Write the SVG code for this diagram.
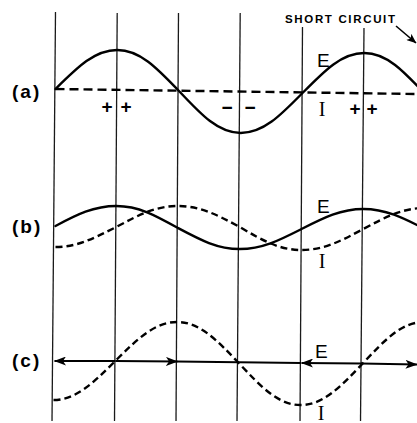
<svg xmlns="http://www.w3.org/2000/svg" width="417" height="423" viewBox="0 0 417 423">
<style>
.grid{stroke:#1a1a1a;stroke-width:1.3;fill:none}
.solid{stroke:#000;stroke-width:2.4;fill:none;stroke-linecap:round}
.dash{stroke:#000;stroke-width:2.4;fill:none;stroke-dasharray:7 4}
.axis{stroke:#000;stroke-width:2.2;fill:none}
.lbl{font-family:"Liberation Sans",Arial,sans-serif;font-weight:bold;font-size:19px;fill:#000}
.E{font-family:"Liberation Sans",Arial,sans-serif;font-size:19px;fill:#000}
.I{font-family:"Liberation Serif","Times New Roman",serif;font-size:20px;fill:#000;text-anchor:middle}
.sign{font-family:"Liberation Sans",Arial,sans-serif;font-weight:bold;font-size:19px;fill:#000;text-anchor:middle}
.sc{font-family:"Liberation Sans",Arial,sans-serif;font-weight:bold;font-size:11.5px;fill:#000}
</style>
<defs>
<marker id="ah" markerUnits="userSpaceOnUse" viewBox="0 0 12 9" refX="11.5" refY="4.5" markerWidth="12" markerHeight="9" orient="auto">
<path d="M0,0 L12,4.5 L0,9 L3,4.5 z" fill="#000"/>
</marker>
<marker id="ahs" markerUnits="userSpaceOnUse" viewBox="0 0 10 8" refX="9.5" refY="4" markerWidth="10" markerHeight="8" orient="auto">
<path d="M0,0 L10,4 L0,8 L2.5,4 z" fill="#000"/>
</marker>
</defs>
<rect width="417" height="423" fill="#fff"/>
<g id="grid">
<path class="grid" d="M55.5,12 L52,421"/>
<path class="grid" d="M117.2,13 L114.5,421"/>
<path class="grid" d="M178.5,13 L176,421"/>
<path class="grid" d="M240.2,13 L237,421"/>
<path class="grid" d="M302.5,27 L300,421"/>
<path class="grid" d="M364,28 L360.5,421"/>
</g>
<g id="panel-a">
<text class="lbl" x="12" y="98" letter-spacing="2">(a)</text>
<path class="dash" style="stroke-dasharray:9 5" d="M55.5,89 L417,94"/>
<path class="solid" d="M55.5,89 C78,66.7 94.8,50 117.25,50 C139.75,50 156.55,67.5 179,91 C201.5,115 218.3,133 240.75,133 C263.25,133 280.05,115.9 302.5,93 C325,70.1 341.8,53 364.25,53 C386.75,53 403.55,71 426,95"/>
<text class="sign" x="107" y="113">+</text>
<text class="sign" x="126" y="113">+</text>
<text class="sign" x="227" y="114">−</text>
<text class="sign" x="250" y="114">−</text>
<text class="sign" x="355" y="115">+</text>
<text class="sign" x="372" y="115">+</text>
<text class="E" x="317" y="67">E</text>
<text class="I" x="322" y="116">I</text>
<text class="sc" x="285" y="23" textLength="110" lengthAdjust="spacing">SHORT CIRCUIT</text>
<path class="axis" style="stroke-width:1.6" d="M396,26 L416,43" marker-end="url(#ahs)"/>
</g>
<g id="panel-b" transform="translate(-1,0)">
<text class="lbl" x="13" y="233" letter-spacing="2">(b)</text>
<path class="solid" d="M56.5,226 C78,214.6 94.8,206 117.25,206 C139.75,206 156.55,215.4 179,228 C201.5,240 218.3,249 240.75,249 C263.25,249 280.05,240.4 302.5,229 C325,217.6 341.8,209 364.25,209 C386.75,209 403.55,217.6 426,229"/>
<path class="dash" d="M56.5,247 C78,247 94.8,238.4 117.25,227 C139.75,215 156.55,206 179,206 C201.5,206 218.3,215 240.75,227 C263.25,240.2 280.05,250 302.5,250 C325,250 341.8,241 364.25,229 C386.75,217 403.55,208 426,208"/>
<text class="E" x="318" y="213">E</text>
<text class="I" x="323" y="268">I</text>
</g>
<g id="panel-c">
<text class="lbl" x="12" y="367" letter-spacing="2">(c)</text>
<g id="connectors">
<path class="axis" d="M115.5,361 L54.5,361" marker-end="url(#ah)"/>
<path class="axis" d="M115.5,361 L177.5,361.5" marker-end="url(#ah)"/>
<path class="axis" d="M177,361.5 L301,363"/>
<path class="axis" d="M362,363.5 L301.5,363" marker-end="url(#ah)"/>
<path class="axis" d="M361,363.5 L417,364.5" marker-end="url(#ah)"/>
</g>
<path class="dash" transform="translate(-2,0)" d="M55.5,400 C78,400 94.8,383.3 117.25,361 C139.75,338.7 156.55,322 179,322 C201.5,322 218.3,339.5 240.75,363 C263.25,387 280.05,405 302.5,405 C325,405 341.8,387.5 364.25,364 C386.75,340 403.55,322 426,322"/>
<text class="E" x="315" y="358">E</text>
<text class="I" x="321" y="420">I</text>
</g>
</svg>
